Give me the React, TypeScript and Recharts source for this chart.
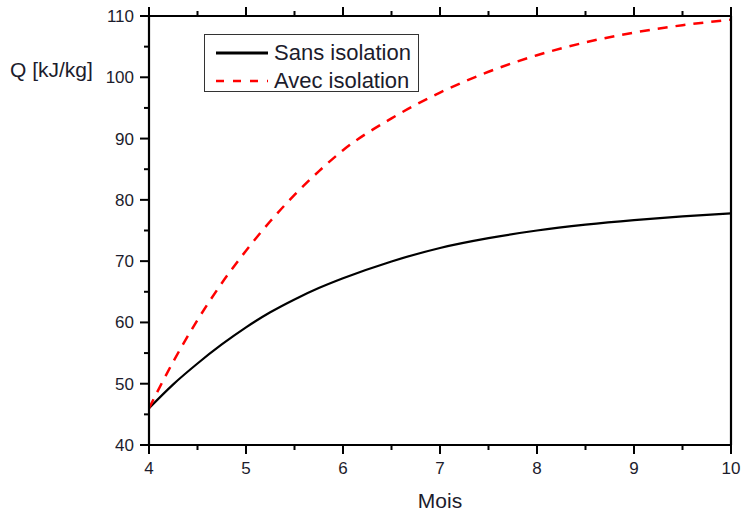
import React from "react";
import { LineChart, Line, XAxis, YAxis, Legend, Label } from "recharts";

const months = [4, 4.25, 4.5, 4.75, 5, 5.25, 5.5, 5.75, 6, 6.5, 7, 7.5, 8, 8.5, 9, 9.5, 10];
const sansIsolation = [46.0, 49.9, 53.3, 56.4, 59.2, 61.65, 63.75, 65.6, 67.2, 69.95, 72.15, 73.75, 75.0, 75.95, 76.7, 77.3, 77.8];
const avecIsolation = [46.0, 53.6, 60.4, 66.4, 71.7, 76.5, 80.8, 84.65, 88.1, 93.3, 97.5, 100.9, 103.6, 105.7, 107.3, 108.5, 109.4];

const xTicks = [4, 4.5, 5, 5.5, 6, 6.5, 7, 7.5, 8, 8.5, 9, 9.5, 10];
const yTicks = [40, 45, 50, 55, 60, 65, 70, 75, 80, 85, 90, 95, 100, 105, 110];

const seriesNames = ["Sans isolation", "Avec isolation"];

const data = months.map((m, i) => ({ m, sans: sansIsolation[i], avec: avecIsolation[i] }));

const FONT = "'Liberation Sans', Arial, sans-serif";
const TEXT = "#1c1c2c";

const isMajorX = (v: number) => Number.isInteger(v);
const isMajorY = (v: number) => v % 10 === 0;

const BottomTick = (props: any) => {
  const { x, y, payload } = props;
  const major = isMajorX(payload.value);
  return (
    <g>
      <line x1={x} x2={x} y1={y} y2={y + (major ? 9 : 5)} stroke="#000" strokeWidth={2} />
      {major && (
        <text x={x} y={y + 29} textAnchor="middle" fontSize={17} fontFamily={FONT} fill={TEXT}>
          {payload.value}
        </text>
      )}
    </g>
  );
};

const TopTick = (props: any) => {
  const { x, y, payload } = props;
  const major = isMajorX(payload.value);
  return <line x1={x} x2={x} y1={y} y2={y - (major ? 9 : 5)} stroke="#000" strokeWidth={2} />;
};

const LeftTick = (props: any) => {
  const { x, y, payload } = props;
  const major = isMajorY(payload.value);
  return (
    <g>
      <line x1={x} x2={x - (major ? 9 : 5)} y1={y} y2={y} stroke="#000" strokeWidth={2} />
      {major && (
        <text x={x - 15} y={y + 6} textAnchor="end" fontSize={17} fontFamily={FONT} fill={TEXT}>
          {payload.value}
        </text>
      )}
    </g>
  );
};

const RightTick = (props: any) => {
  const { x, y, payload } = props;
  const major = isMajorY(payload.value);
  return <line x1={x} x2={x + (major ? 9 : 5)} y1={y} y2={y} stroke="#000" strokeWidth={2} />;
};

const LegendBox = () => (
  <div
    style={{
      width: 213,
      height: 56,
      border: "1px solid #333",
      background: "#fff",
      fontFamily: FONT,
      fontSize: 22,
      color: TEXT,
      boxSizing: "content-box",
    }}
  >
    {seriesNames.map((name, i) => (
      <div key={name} style={{ position: "relative", height: 28, top: 4 }}>
        <svg width={52} height={10} style={{ position: "absolute", left: 11, top: 9 }}>
          <line
            x1={0}
            x2={52}
            y1={5}
            y2={5}
            stroke={i === 0 ? "#000" : "#ff0000"}
            strokeWidth={i === 0 ? 3 : 2.5}
            strokeDasharray={i === 0 ? undefined : "8 9"}
          />
        </svg>
        <span style={{ position: "absolute", left: 69, top: 0, lineHeight: "28px", whiteSpace: "nowrap" }}>
          {name}
        </span>
      </div>
    ))}
  </div>
);

export default function App() {
  return (
    <div style={{ position: "absolute", left: 0, top: 0 }}>
      <LineChart width={742} height={513} data={data} margin={{ top: 15, right: 10, bottom: 0, left: 0 }}>
        <XAxis
          xAxisId="b"
          dataKey="m"
          type="number"
          domain={[4, 10]}
          ticks={xTicks}
          interval={0}
          height={68}
          tickSize={0}
          tickMargin={0}
          tickLine={false}
          stroke="#000"
          strokeWidth={2}
          axisLine={{ stroke: "#000", strokeWidth: 2.2 }}
          tick={<BottomTick />}
          allowDataOverflow
        >
          <Label
            content={(p: any) => {
              const vb = p.viewBox || {};
              return (
                <text x={vb.x + vb.width / 2} y={vb.y + 63} textAnchor="middle" fontSize={21} fontFamily={FONT} fill={TEXT}>
                  Mois
                </text>
              );
            }}
          />
        </XAxis>
        <XAxis
          xAxisId="t"
          dataKey="m"
          type="number"
          orientation="top"
          domain={[4, 10]}
          ticks={xTicks}
          interval={0}
          height={1}
          tickSize={0}
          tickMargin={0}
          tickLine={false}
          stroke="#000"
          strokeWidth={2}
          axisLine={{ stroke: "#000", strokeWidth: 2.2 }}
          tick={<TopTick />}
        />
        <YAxis
          yAxisId="l"
          type="number"
          domain={[40, 110]}
          ticks={yTicks}
          interval={0}
          width={149}
          tickSize={0}
          tickMargin={0}
          tickLine={false}
          stroke="#000"
          strokeWidth={2}
          axisLine={{ stroke: "#000", strokeWidth: 2.2 }}
          tick={<LeftTick />}
          allowDataOverflow
        >
          <Label
            content={() => (
              <text x={10} y={77} textAnchor="start" fontSize={21} fontFamily={FONT} fill={TEXT}>
                Q [kJ/kg]
              </text>
            )}
          />
        </YAxis>
        <YAxis
          yAxisId="r"
          type="number"
          orientation="right"
          domain={[40, 110]}
          ticks={yTicks}
          interval={0}
          width={1}
          tickSize={0}
          tickMargin={0}
          tickLine={false}
          stroke="#000"
          strokeWidth={2}
          axisLine={{ stroke: "#000", strokeWidth: 2.2 }}
          tick={<RightTick />}
        />
        <Legend
          layout="vertical"
          align="center"
          verticalAlign="middle"
          content={<LegendBox />}
          wrapperStyle={{ position: "absolute", left: 204, top: 34, width: 215, height: 58 }}
        />
        <Line
          xAxisId="b"
          yAxisId="l"
          type="monotone"
          dataKey="sans"
          name={seriesNames[0]}
          stroke="#000"
          strokeWidth={2.2}
          dot={false}
          isAnimationActive={false}
        />
        <Line
          xAxisId="b"
          yAxisId="l"
          type="monotone"
          dataKey="avec"
          name={seriesNames[1]}
          stroke="#ff0000"
          strokeWidth={2.5}
          strokeDasharray="10 8"
          dot={false}
          isAnimationActive={false}
        />
      </LineChart>
    </div>
  );
}
